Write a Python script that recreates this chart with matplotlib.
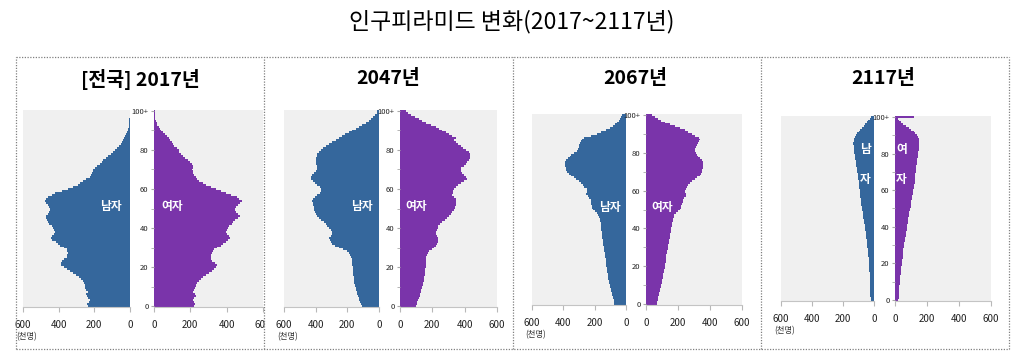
import numpy as np
import matplotlib
matplotlib.use('Agg')
import matplotlib.pyplot as plt
from matplotlib.lines import Line2D
from matplotlib.patches import Rectangle

plt.rcParams['font.family'] = ['Noto Sans CJK KR', 'DejaVu Sans']

###DATA###
# population by single year of age (thousands), ages 0..100+
ages = np.arange(101)
age_ticks = [0, 20, 40, 60, 80, 100]
age_labels = ['0', '20', '40', '60', '80', '100+']
pop_ticks = [0, 200, 400, 600]

years = ['2017', '2047', '2067', '2117']
panel_titles = ['[전국] 2017년', '2047년', '2067년', '2117년']

male_2017 = [236, 240, 232, 226, 236, 240, 244, 238, 246, 250,
             250, 252, 256, 262, 272, 288, 305, 322, 338, 355,
             372, 385, 388, 384, 370, 356, 352, 350, 352, 354,
             368, 392, 403, 415, 435, 441, 438, 425, 420, 428,
             431, 440, 452, 460, 468, 470, 469, 462, 456, 450,
             448, 452, 462, 470, 478, 470, 460, 440, 422, 380,
             347, 318, 290, 281, 262, 245, 225, 218, 212, 208,
             206, 196, 185, 169, 158, 150, 132, 122, 108, 96,
             84, 75, 63, 50, 47, 40, 33, 28, 23, 18,
             13, 11, 8, 6, 5, 4, 3, 2, 1, 1,
             1]
female_2017 = [219, 225, 220, 212, 222, 229, 228, 215, 222, 228,
               229, 232, 238, 246, 257, 270, 288, 305, 318, 330,
               341, 345, 335, 322, 313, 312, 316, 320, 323, 330,
               348, 370, 379, 395, 410, 416, 412, 400, 398, 402,
               405, 415, 428, 435, 448, 462, 473, 465, 452, 445,
               444, 452, 465, 475, 482, 470, 455, 425, 398, 370,
               341, 315, 285, 270, 250, 238, 229, 222, 215, 212,
               210, 212, 214, 210, 198, 185, 173, 160, 148, 140,
               135, 124, 112, 104, 98, 90, 80, 69, 60, 50,
               41, 34, 27, 19, 15, 11, 8, 6, 4, 3,
               4]

male_2047 = [109, 114, 119, 124, 129, 133, 138, 142, 145, 148,
             151, 153, 155, 157, 158, 160, 162, 164, 165, 166,
             167, 168, 170, 172, 173, 176, 182, 192, 205, 225,
             255, 280, 295, 305, 312, 316, 305, 298, 295, 305,
             316, 328, 337, 350, 365, 379, 390, 398, 404, 408,
             410, 411, 414, 418, 421, 418, 405, 389, 375, 368,
             368, 375, 390, 405, 420, 432, 430, 421, 410, 400,
             392, 389, 392, 396, 398, 400, 398, 392, 389, 380,
             368, 352, 337, 315, 295, 274, 255, 232, 214, 189,
             168, 147, 126, 105, 80, 63, 48, 35, 25, 15,
             10]
female_2047 = [98, 103, 108, 113, 117, 121, 125, 129, 132, 135,
               138, 141, 144, 147, 150, 151, 152, 154, 155, 157,
               158, 160, 160, 160, 160, 162, 166, 172, 180, 195,
               210, 221, 228, 233, 236, 238, 230, 224, 221, 226,
               232, 238, 245, 260, 278, 293, 305, 315, 324, 332,
               338, 342, 344, 346, 348, 345, 335, 324, 326, 330,
               334, 345, 360, 375, 395, 416, 408, 395, 385, 378,
               375, 380, 395, 406, 415, 426, 430, 434, 436, 425,
               406, 390, 375, 360, 345, 334, 345, 324, 305, 283,
               262, 242, 221, 190, 160, 139, 115, 90, 70, 50,
               37]

male_2067 = [75, 77, 79, 81, 84, 87, 90, 94, 97, 100,
             103, 106, 109, 112, 114, 116, 118, 120, 122, 124,
             125, 126, 127, 128, 130, 132, 134, 137, 139, 141,
             143, 145, 147, 149, 150, 152, 153, 155, 156, 157,
             158, 159, 160, 162, 164, 167, 172, 178, 188, 200,
             210, 218, 220, 222, 225, 224, 235, 245, 255, 252,
             248, 252, 265, 273, 285, 300, 316, 335, 352, 366,
             375, 380, 386, 390, 391, 388, 382, 372, 360, 348,
             330, 315, 306, 300, 298, 295, 290, 284, 270, 225,
             188, 160, 130, 105, 85, 70, 58, 45, 38, 32,
             28]
female_2067 = [69, 71, 73, 74, 76, 79, 82, 85, 88, 92,
               95, 98, 101, 103, 105, 107, 109, 112, 114, 117,
               119, 120, 122, 123, 124, 126, 128, 130, 133, 135,
               137, 139, 141, 143, 145, 148, 150, 153, 156, 158,
               159, 160, 162, 164, 166, 168, 172, 178, 189, 200,
               210, 218, 221, 225, 230, 232, 240, 250, 253, 246,
               242, 248, 255, 263, 275, 290, 305, 320, 335, 345,
               350, 352, 355, 358, 358, 355, 347, 335, 322, 316,
               310, 305, 305, 310, 318, 326, 333, 337, 330, 305,
               285, 262, 242, 210, 180, 150, 120, 95, 75, 55,
               35]

male_2117 = [22, 22, 23, 23, 24, 24, 25, 25, 26, 26,
             27, 27, 28, 28, 29, 29, 30, 30, 31, 32,
             32, 33, 34, 35, 36, 37, 38, 39, 40, 42,
             43, 44, 46, 47, 49, 50, 52, 53, 55, 56,
             58, 60, 62, 64, 66, 68, 70, 72, 74, 76,
             78, 80, 82, 84, 86, 87, 89, 90, 91, 92,
             93, 94, 95, 97, 98, 99, 101, 102, 104, 105,
             107, 109, 111, 113, 115, 117, 119, 121, 123, 125,
             127, 128, 130, 131, 132, 133, 133, 132, 130, 125,
             119, 110, 100, 90, 78, 67, 58, 48, 39, 28,
             20]
female_2117 = [21, 22, 22, 23, 24, 25, 26, 27, 28, 29,
               30, 31, 32, 33, 35, 36, 37, 39, 40, 42,
               43, 45, 46, 47, 48, 50, 51, 52, 53, 55,
               57, 59, 61, 63, 65, 67, 69, 70, 72, 74,
               75, 77, 79, 80, 82, 84, 86, 88, 90, 93,
               95, 97, 99, 101, 103, 105, 107, 109, 111, 113,
               115, 117, 118, 120, 122, 123, 124, 125, 126, 128,
               129, 131, 132, 134, 135, 137, 139, 140, 142, 143,
               145, 146, 148, 149, 150, 152, 152, 151, 149, 145,
               135, 125, 116, 102, 85, 68, 52, 38, 26, 18,
               116]

males = [male_2017, male_2047, male_2067, male_2117]
females = [female_2017, female_2047, female_2067, female_2117]

MALE = '#35679c'
FEMALE = '#7a34aa'
BG = '#f0f0f0'

##### LAYOUT (pixels) #####
W, H = 1024, 359
# (male x0, x1), (female x0, x1), (top, bottom)
boxes = [((23, 130), (154, 263), (110, 307)),
         ((284, 379), (400, 497), (110, 307)),
         ((532, 626), (646, 742), (114, 305)),
         ((781, 874), (895, 991), (116, 301))]
title_x = [140, 388, 635, 883]


def rect(x0, x1, yt, yb):
    return [x0 / W, 1 - yb / H, (x1 - x0) / W, (yb - yt) / H]


fig = plt.figure(figsize=(W / 100, H / 100), dpi=100)

fig.text(0.5, 1 - 22 / H, '인구피라미드 변화(2017~2117년)', ha='center', va='center', fontsize=16.5)

for i in range(4):
    (mx0, mx1), (fx0, fx1), (yt, yb) = boxes[i]
    axm = fig.add_axes(rect(mx0, mx1, yt, yb))
    axf = fig.add_axes(rect(fx0, fx1, yt, yb))

    axm.barh(ages, males[i], height=1.0, color=MALE, lw=0, antialiased=False)
    axf.barh(ages, females[i], height=1.0, color=FEMALE, lw=0, antialiased=False)

    axm.set_xlim(600, 0)
    axf.set_xlim(0, 600)
    for ax in (axm, axf):
        ax.set_ylim(-0.5, 100.5)
        ax.set_facecolor(BG)
        for s in ('top', 'right', 'left'):
            ax.spines[s].set_visible(False)
        ax.spines['bottom'].set_color('#c4c4c4')
        ax.set_xticks(pop_ticks, labels=[str(t) for t in pop_ticks])
        ax.tick_params(axis='x', length=3.5, color='#b8b8b8', labelsize=7, pad=5.5,
                       labelcolor='#222222')
    axm.set_yticks([])
    axf.set_yticks(age_ticks, labels=age_labels)
    axf.set_yticks(np.arange(10, 100, 20), minor=True)
    axf.tick_params(axis='y', which='both', length=2.5, color='#a8a8a8', labelsize=5.5, pad=1.5,
                    labelcolor='#222222')

    axm.annotate('(천명)', xy=(0, 0), xycoords='axes fraction', xytext=(-5, -21.5),
                 textcoords='offset points', ha='left', va='center', fontsize=6, color='#333333')

    fig.text(title_x[i] / W, 1 - 79 / H, panel_titles[i], ha='center', va='center',
             fontsize=14, fontweight='bold')

    if i < 3:
        axm.text(105, 51, '남자', ha='center', va='center', color='white', fontsize=8.5, fontweight='bold')
        axf.text(100, 51, '여자', ha='center', va='center', color='white', fontsize=8.5, fontweight='bold')
    else:
        axm.text(54, 82, '남', ha='center', va='center', color='white', fontsize=8.5, fontweight='bold')
        axm.text(54, 66, '자', ha='center', va='center', color='white', fontsize=8.5, fontweight='bold')
        axf.text(42, 82, '여', ha='center', va='center', color='white', fontsize=8.5, fontweight='bold')
        axf.text(42, 66, '자', ha='center', va='center', color='white', fontsize=8.5, fontweight='bold')

# panel one's last tick label is cut by the frame
fig.add_artist(Rectangle((264.5 / W, 1 - 345 / H), 10 / W, 30 / H, transform=fig.transFigure,
                         fc='white', ec='none', zorder=5))

# dotted frame
dot = dict(transform=fig.transFigure, color='#808080', lw=0.9, linestyle=(0, (1, 1.2)), zorder=6)
top, bot = 1 - 57 / H, 1 - 349 / H
fig.add_artist(Line2D([16 / W, 1009 / W], [top, top], **dot))
fig.add_artist(Line2D([16 / W, 1009 / W], [bot, bot], **dot))
for xv in (16, 264, 513, 761, 1009):
    fig.add_artist(Line2D([xv / W, xv / W], [bot, top], **dot))

plt.savefig('out.png', dpi=100)
